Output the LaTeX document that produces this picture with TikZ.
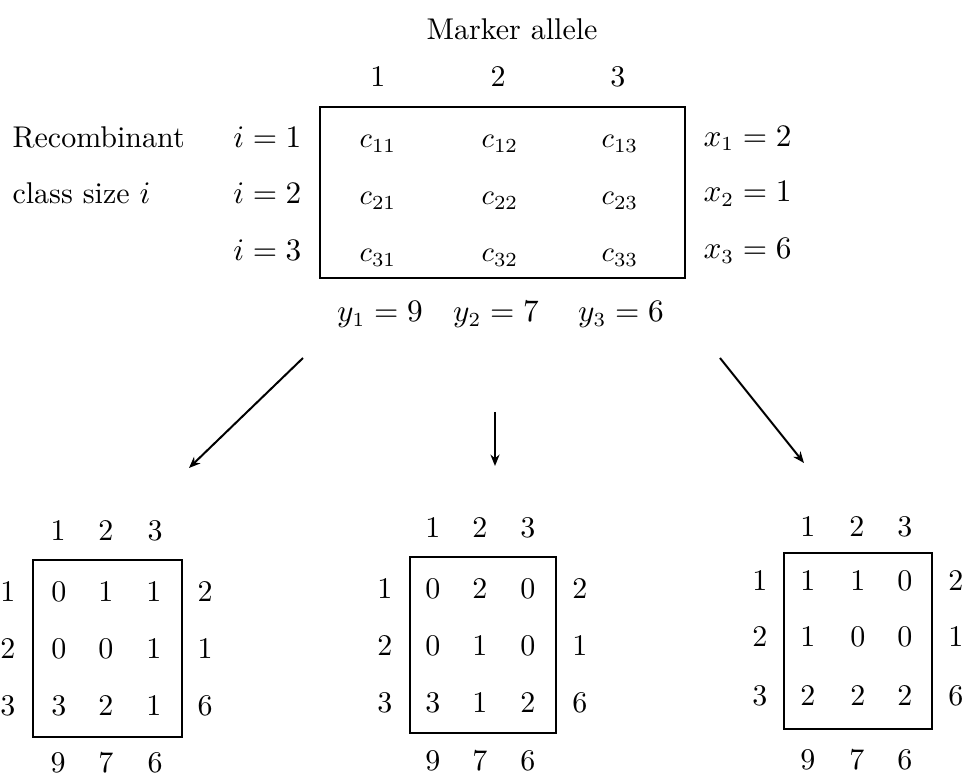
\documentclass[tikz,border=0pt]{standalone}
\usetikzlibrary{arrows.meta}
\begin{document}
\begin{tikzpicture}[x=0.35pt,y=-0.35pt,
  every node/.style={font=\fontsize{10.5}{12.5}\selectfont, inner sep=0pt, anchor=base},
  smallc/.style={font=\fontsize{10}{12}\selectfont},
  matbox/.style={draw, line width=0.7pt, anchor=center},
  conn/.style={line width=0.7pt, -{Stealth[length=4pt,width=3.2pt]}}]
\useasboundingbox (0,0) rectangle (964,784);

% ---------- top matrix ----------
\node (title) at (512,40) {Marker allele};
\node (h1) at (378,87) {1};
\node (h2) at (498,87) {2};
\node (h3) at (618,87) {3};
\node[matbox, minimum width=365*0.35pt, minimum height=171*0.35pt] (topbox) at (502.5,192.5) {};

\node[smallc] (c11) at (378,148) {$c_{11}$};
\node[smallc] (c12) at (500,148) {$c_{12}$};
\node[smallc] (c13) at (620,148) {$c_{13}$};
\node[smallc] (c21) at (378,205) {$c_{21}$};
\node[smallc] (c22) at (500,205) {$c_{22}$};
\node[smallc] (c23) at (620,205) {$c_{23}$};
\node[smallc] (c31) at (378,262) {$c_{31}$};
\node[smallc] (c32) at (500,262) {$c_{32}$};
\node[smallc] (c33) at (620,262) {$c_{33}$};

\node[anchor=base west] (rec) at (12,148) {Recombinant};
\node[anchor=base west] (cls) at (12,204) {class size $i$};
\node[anchor=base east] (i1) at (302,148) {$i=1$};
\node[anchor=base east] (i2) at (302,204) {$i=2$};
\node[anchor=base east] (i3) at (302,261) {$i=3$};

\node[anchor=base west] (x1) at (703,146) {$x_1=2$};
\node[anchor=base west] (x2) at (703,202) {$x_2=1$};
\node[anchor=base west] (x3) at (703,259) {$x_3=6$};

\node (y1) at (380,322) {$y_1=9$};
\node (y2) at (496,322) {$y_2=7$};
\node (y3) at (621,322) {$y_3=6$};

% ---------- arrows ----------
\coordinate (a1s) at (303,358);
\coordinate (a1e) at (189,468);
\coordinate (a2s) at (495,412);
\coordinate (a2e) at (495,466);
\coordinate (a3s) at (720,358);
\coordinate (a3e) at (804,463);
\draw[conn] (a1s) -- (a1e);
\draw[conn] (a2s) -- (a2e);
\draw[conn] (a3s) -- (a3e);

% ---------- bottom left matrix ----------
\node (L h1) at (58,541) {1};
\node (L h2) at (106,541) {2};
\node (L h3) at (155,541) {3};
\node[matbox, minimum width=149*0.35pt, minimum height=177*0.35pt] (Lbox) at (107.5,648.5) {};
\node (L r1) at (8,602) {1};
\node (L r2) at (8,659) {2};
\node (L r3) at (8,716) {3};
\node (L 11) at (59,602) {0};
\node (L 12) at (106,602) {1};
\node (L 13) at (154,602) {1};
\node (L 21) at (59,659) {0};
\node (L 22) at (106,659) {0};
\node (L 23) at (154,659) {1};
\node (L 31) at (59,716) {3};
\node (L 32) at (106,716) {2};
\node (L 33) at (154,716) {1};
\node (L s1) at (205,602) {2};
\node (L s2) at (205,659) {1};
\node (L s3) at (205,716) {6};
\node (L b1) at (58,772) {9};
\node (L b2) at (106,772) {7};
\node (L b3) at (155,772) {6};

% ---------- bottom middle matrix ----------
\node (M h1) at (433,537) {1};
\node (M h2) at (480,537) {2};
\node (M h3) at (528,537) {3};
\node[matbox, minimum width=146*0.35pt, minimum height=176*0.35pt] (Mbox) at (483,645) {};
\node (M r1) at (385,599) {1};
\node (M r2) at (385,656) {2};
\node (M r3) at (385,712) {3};
\node (M 11) at (433,599) {0};
\node (M 12) at (480,599) {2};
\node (M 13) at (528,599) {0};
\node (M 21) at (433,656) {0};
\node (M 22) at (480,656) {1};
\node (M 23) at (528,656) {0};
\node (M 31) at (433,712) {3};
\node (M 32) at (480,712) {1};
\node (M 33) at (528,712) {2};
\node (M s1) at (580,599) {2};
\node (M s2) at (580,656) {1};
\node (M s3) at (580,712) {6};
\node (M b1) at (433,771) {9};
\node (M b2) at (480,771) {7};
\node (M b3) at (528,771) {6};

% ---------- bottom right matrix ----------
\node (R h1) at (808,536) {1};
\node (R h2) at (857,536) {2};
\node (R h3) at (905,536) {3};
\node[matbox, minimum width=148*0.35pt, minimum height=176*0.35pt] (Rbox) at (858,641) {};
\node (R r1) at (760,591) {1};
\node (R r2) at (760,647) {2};
\node (R r3) at (760,706) {3};
\node (R 11) at (808,591) {1};
\node (R 12) at (858,591) {1};
\node (R 13) at (905,591) {0};
\node (R 21) at (808,647) {1};
\node (R 22) at (858,647) {0};
\node (R 23) at (905,647) {0};
\node (R 31) at (808,706) {2};
\node (R 32) at (858,706) {2};
\node (R 33) at (905,706) {2};
\node (R s1) at (956,591) {2};
\node (R s2) at (956,647) {1};
\node (R s3) at (956,706) {6};
\node (R b1) at (808,769) {9};
\node (R b2) at (857,769) {7};
\node (R b3) at (905,769) {6};
\end{tikzpicture}
\end{document}
